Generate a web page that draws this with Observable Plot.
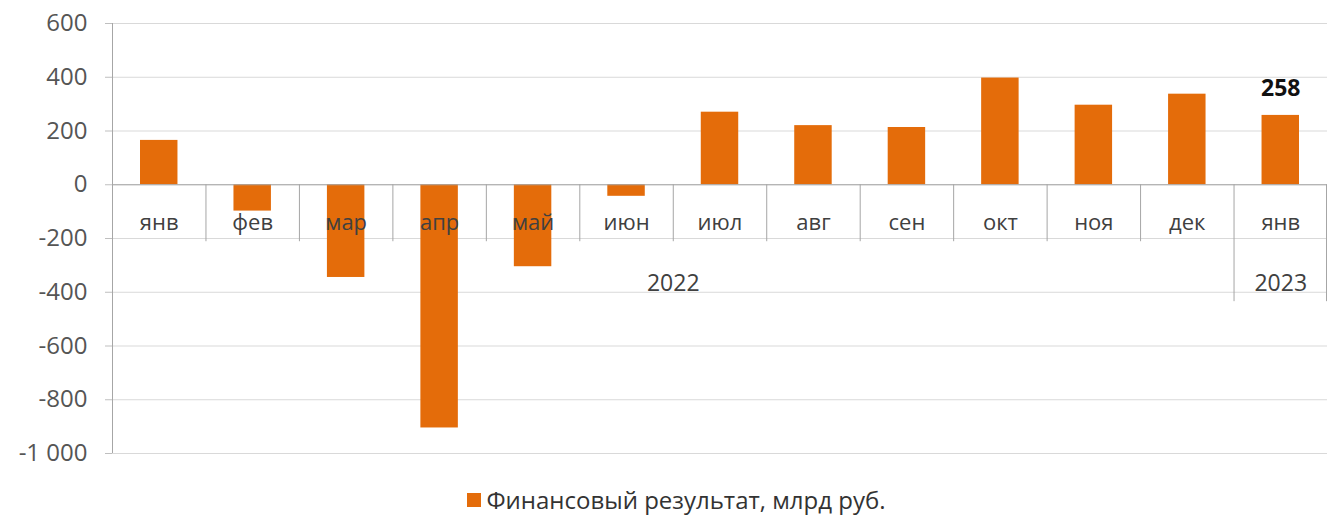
<!DOCTYPE html>
<html><head><meta charset="utf-8">
<script src="https://cdn.jsdelivr.net/npm/d3@7"></script>
<script src="https://cdn.jsdelivr.net/npm/@observablehq/plot@0.6"></script>
<style>
body{margin:0;background:#fff;font-family:"Open Sans",sans-serif;}
#legend{display:flex;justify-content:center;align-items:center;height:59px;font-size:24px;color:#333;padding-left:20px;}
#legend .sw{width:14px;height:14px;background:#E46C0A;margin-right:5px;}
</style>
</head><body><div id="chart"></div><div id="legend"></div>
<script>
const months = ["янв","фев","мар","апр","май","июн","июл","авг","сен","окт","ноя","дек","янв"];
const values = [165,-98,-345,-905,-305,-43,270,220,213,397,296,337,258];
const years = ["2022","2023"];
const yTicks = [600,400,200,0,-200,-400,-600,-800,-1000];
const highlightLabel = "258";
const legendLabel = "Финансовый результат, млрд руб.";

const keys = months.map((_, i) => String(i));
const data = keys.map((k, i) => ({key: k, month: months[i], value: values[i]}));
const W = 1333, ML = 112, MR = 6;
const bw = (W - ML - MR) / keys.length;
const orange = "#E46C0A";
const fmt = d => (d < 0 ? "-" : "") + (Math.abs(d) >= 1000 ? d3.format(",")(Math.abs(d)).replace(/,/g, "\u00A0") : String(Math.abs(d)));

const chart = Plot.plot({
  width: W, height: 470,
  marginLeft: ML, marginRight: MR, marginTop: 23, marginBottom: 17,
  style: {fontFamily: "'Open Sans', sans-serif", fontSize: "22px", background: "#fff"},
  x: {domain: keys, padding: 0, round: false, axis: null},
  y: {domain: [-1000, 600], axis: null},
  marks: [
    Plot.gridY(yTicks, {stroke: "#d9d9d9", strokeOpacity: 1}),
    Plot.axisY({ticks: yTicks, tickFormat: fmt, tickSize: 7, tickPadding: 18, label: null, stroke: "#bfbfbf", color: "#555", fontSize: 24}),
    Plot.barY(data, {x: "key", y: "value", fill: orange, insetLeft: 28, insetRight: 28}),
    Plot.ruleY([0], {stroke: "#a6a6a6"}),
    Plot.ruleX([keys[0]], {dx: -bw/2, y1: -1000, y2: 600, stroke: "#a6a6a6"}),
    Plot.ruleX(keys.slice(1, 12), {dx: -bw/2, y1: 0, y2: -212, stroke: "#a6a6a6"}),
    Plot.ruleX([keys[12]], {dx: -bw/2, y1: 0, y2: -435, stroke: "#a6a6a6"}),
    Plot.ruleX([keys[12]], {dx: bw/2 - 1, y1: 0, y2: -435, stroke: "#a6a6a6"}),
    Plot.text(data, {x: "key", y: -144, text: "month", fill: "#404040", fontSize: 22}),
    Plot.text([{k: keys[6], t: years[0]}], {x: "k", y: -368, dx: -bw/2, text: "t", fill: "#404040", fontSize: 23}),
    Plot.text([{k: keys[12], t: years[1]}], {x: "k", y: -368, text: "t", fill: "#404040", fontSize: 23}),
    Plot.text([data[12]], {x: "key", y: "value", dy: -27, text: () => highlightLabel, fill: "#111", fontWeight: "bold", fontSize: 23})
  ]
});
document.getElementById("chart").appendChild(chart);
document.getElementById("legend").innerHTML = `<span class="sw"></span><span>${legendLabel}</span>`;
</script>
</body></html>
